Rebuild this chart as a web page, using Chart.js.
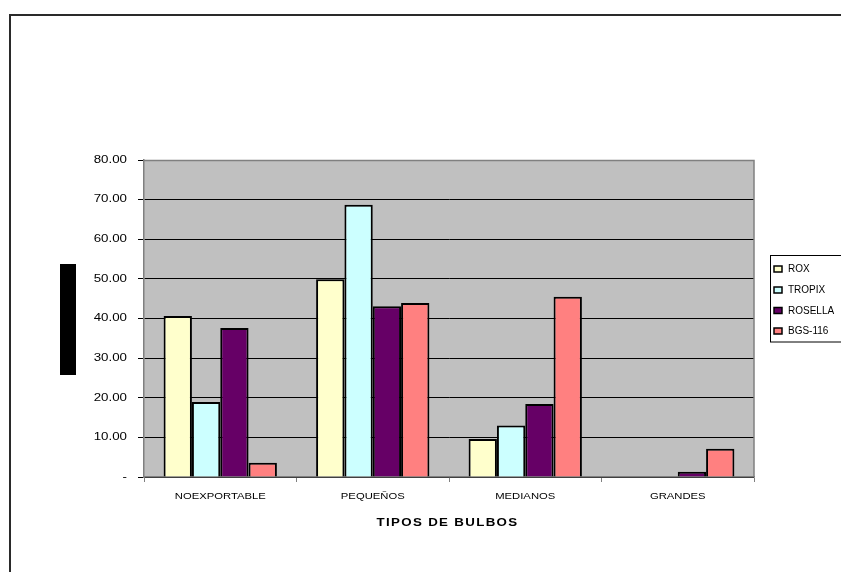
<!DOCTYPE html>
<html>
<head>
<meta charset="utf-8">
<script src="https://cdn.jsdelivr.net/npm/chart.js@4.4.1/dist/chart.umd.min.js"></script>
<style>
  html, body { margin: 0; padding: 0; background: #fff; overflow: hidden; }
  #wrap { width: 841px; height: 572px; position: relative; }
</style>
</head>
<body>
<div id="wrap"><canvas id="c" width="841" height="572"></canvas></div>
<script>
// Bulb size classes and the share (%) of each variety
const categories = ['NOEXPORTABLE', 'PEQUEÑOS', 'MEDIANOS', 'GRANDES'];
const rox     = [40.6, 49.9, 9.6, 0];
const tropix  = [18.9, 68.7, 13.0, 0];
const rosella = [37.6, 43.1, 18.4, 1.3];
const bgs116  = [3.6, 43.9, 45.5, 7.1];
const seriesNames = ['ROX', 'TROPIX', 'ROSELLA', 'BGS-116'];
const yTickLabels = ['-', '10.00', '20.00', '30.00', '40.00', '50.00', '60.00', '70.00', '80.00'];
const xTitle = 'TIPOS DE BULBOS';

const seriesColors = ['#FFFFCC', '#CCFFFF', '#660066', '#FF8080'];
const FONT = '"Liberation Sans", Arial, sans-serif';

// draw text squeezed/stretched horizontally
function stretchText(ctx, str, x, y, align, sx) {
  ctx.save();
  ctx.translate(x, y);
  ctx.scale(sx, 1);
  ctx.textAlign = align;
  ctx.fillText(str, 0, 0);
  ctx.restore();
}

const decor = {
  id: 'decor',
  beforeDraw(chart) {
    const ctx = chart.ctx;
    const a = chart.chartArea;
    ctx.save();
    ctx.fillStyle = '#ffffff';
    ctx.fillRect(0, 0, chart.width, chart.height);
    // outer frame
    ctx.strokeStyle = '#2a2a2a';
    ctx.lineWidth = 2;
    ctx.strokeRect(10, 15, 900, 700);
    // vertical axis title block
    ctx.fillStyle = '#000';
    ctx.fillRect(60, 264, 16, 111);
    // plot background
    ctx.fillStyle = '#C0C0C0';
    ctx.fillRect(a.left, a.top, a.right - a.left, a.bottom - a.top);
    ctx.restore();
  },
  afterDatasetsDraw(chart) {
    const ctx = chart.ctx;
    const a = chart.chartArea;
    ctx.save();
    ctx.strokeStyle = '#808080';
    ctx.lineWidth = 1.5;
    ctx.beginPath();
    ctx.moveTo(a.left, a.top + 0.5);
    ctx.lineTo(a.right, a.top + 0.5);
    ctx.lineTo(a.right, a.bottom);
    ctx.stroke();
    ctx.restore();
  },
  afterDraw(chart) {
    const ctx = chart.ctx;
    const ys = chart.scales.y;
    const xs = chart.scales.x;
    ctx.save();
    ctx.fillStyle = '#000';
    ctx.textBaseline = 'middle';

    // y tick labels
    ctx.font = '10px ' + FONT;
    ys.ticks.forEach((t, i) => {
      const y = ys.getPixelForValue(t.value);
      stretchText(ctx, yTickLabels[i], 127, y, 'right', 1.33);
    });

    // category labels
    ctx.font = '9px ' + FONT;
    categories.forEach((c, i) => {
      stretchText(ctx, c, xs.getPixelForValue(i), 497, 'center', 1.25);
    });

    // x axis title
    ctx.font = 'bold 10px ' + FONT;
    ctx.letterSpacing = '1px';
    stretchText(ctx, xTitle, 447.5, 523, 'center', 1.33);
    ctx.letterSpacing = '0px';

    // legend
    ctx.strokeStyle = '#000';
    ctx.lineWidth = 1;
    ctx.strokeRect(770.5, 255.5, 90, 86.5);
    const itemY = [269, 290, 310.5, 331];
    ctx.font = '10px ' + FONT;
    ctx.textAlign = 'left';
    chart.data.datasets.forEach((ds, i) => {
      const y = itemY[i];
      ctx.fillStyle = ds.backgroundColor;
      ctx.fillRect(774, y - 3, 8, 6);
      ctx.lineWidth = 1.5;
      ctx.strokeRect(774, y - 3, 8, 6);
      ctx.fillStyle = '#000';
      ctx.fillText(ds.label, 788, y + 0.5);
    });
    ctx.restore();
  }
};

const seriesData = [rox, tropix, rosella, bgs116];

new Chart(document.getElementById('c'), {
  type: 'bar',
  data: {
    labels: categories,
    datasets: seriesNames.map((n, i) => ({
      label: n,
      data: seriesData[i],
      backgroundColor: seriesColors[i],
      borderColor: '#000',
      borderWidth: 2,
      categoryPercentage: 0.743,
      barPercentage: 1.0
    }))
  },
  options: {
    responsive: false,
    animation: false,
    devicePixelRatio: 1,
    layout: { padding: { left: 94, right: 87, top: 160, bottom: 55 } },
    plugins: { legend: { display: false }, title: { display: false }, tooltip: { enabled: false } },
    scales: {
      x: {
        afterFit(s) { s.height = 40; },
        ticks: { display: false },
        grid: { display: true, drawOnChartArea: false, drawTicks: true, tickLength: 5, color: '#808080', offset: true },
        border: { display: true, color: '#808080', width: 1.5 }
      },
      y: {
        min: 0, max: 80,
        afterFit(s) { s.width = 50; },
        ticks: { display: false, stepSize: 10 },
        grid: { color: '#000', lineWidth: 1, drawTicks: true, tickLength: 6 },
        border: { display: true, color: '#808080', width: 1.5 }
      }
    }
  },
  plugins: [decor]
});
</script>
</body>
</html>
